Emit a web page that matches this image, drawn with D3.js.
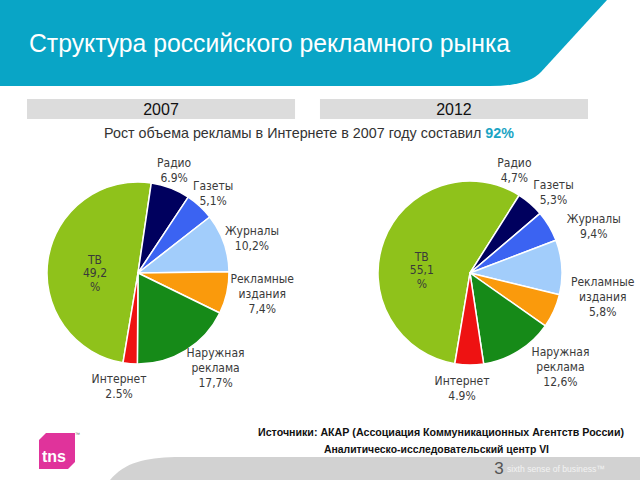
<!DOCTYPE html>
<html><head><meta charset="utf-8">
<script src="https://cdn.jsdelivr.net/npm/d3@7"></script>
<style>html,body{margin:0;padding:0;background:#fff;}svg{display:block;}</style>
</head><body>
<svg id="c" width="640" height="480"></svg>
<script>
// ---- data ----
const categories = ["ТВ", "Радио", "Газеты", "Журналы", "Рекламные издания", "Наружная реклама", "Интернет"];
const categoryLines = [["ТВ"], ["Радио"], ["Газеты"], ["Журналы"], ["Рекламные", "издания"], ["Наружная", "реклама"], ["Интернет"]];
const years = ["2007", "2012"];
const values2007 = [49.2, 6.9, 5.1, 10.2, 7.4, 17.7, 2.5];
const values2012 = [55.1, 4.7, 5.3, 9.4, 5.8, 12.6, 4.9];
const valueText2007 = ["49,2", "6.9%", "5,1%", "10,2%", "7,4%", "17,7%", "2.5%"];
const valueText2012 = ["55,1", "4,7%", "5,3%", "9,4%", "5,8%", "12,6%", "4.9%"];
const sliceColors = ["#8fc21b", "#00005e", "#3b63f2", "#a2cdfb", "#fa9a0c", "#168a18", "#ee1212"];
const titleText = "Структура российского рекламного рынка";
const subtitleText = "Рост объема рекламы в Интернете в 2007 году составил ";
const subtitleHighlight = "92%";
const sourceLines = ["Источники: АКАР (Ассоциация Коммуникационных Агентств России)", "Аналитическо-исследовательский центр  VI"];

// ---- layout (not data) ----
const pies = [
  {values: values2007, texts: valueText2007, cx: 138, cy: 273, r: 91,
   nudge: [[-1.5, 6.6], [-5, 5], [-3, 5], [5.5, 4], [12, -4], [17, -3], [-9, -1]]},
  {values: values2012, texts: valueText2012, cx: 470, cy: 273, r: 92,
   nudge: [[-9, 12], [-31, -16], [-15.5, -22], [9, -39], [28, -24], [30, -4], [-7, 0.5]]}
];
const startDeg = 189.5;

const svg = d3.select("#c");

// header banner
svg.append("path")
  .attr("d", "M0,0 L607,0 L541,72 Q528,86 490,86 L0,86 Z")
  .attr("fill", "#09a5c6");
svg.append("text").attr("x", 29).attr("y", 52)
  .attr("font-family", "Liberation Sans, Arial, sans-serif").attr("font-size", 26)
  .attr("fill", "#fff").attr("textLength", 481).attr("lengthAdjust", "spacingAndGlyphs")
  .text(titleText);

// year bars
const barScale = d3.scaleBand().domain(years).range([27, 588]).paddingInner(0.085);
years.forEach(y => {
  svg.append("rect").attr("x", barScale(y)).attr("y", 99).attr("width", barScale.bandwidth()).attr("height", 20)
    .attr("fill", "#dcdcdc");
  svg.append("text").attr("x", barScale(y) + barScale.bandwidth() / 2).attr("y", 115)
    .attr("text-anchor", "middle").attr("font-family", "Liberation Sans, Arial, sans-serif")
    .attr("font-size", 16).attr("fill", "#111").text(y);
});

// subtitle
const st = svg.append("text").attr("x", 309).attr("y", 138).attr("text-anchor", "middle")
  .attr("font-family", "Liberation Sans, Arial, sans-serif").attr("font-size", 14.3).attr("fill", "#333");
st.append("tspan").text(subtitleText);
st.append("tspan").attr("fill", "#1ba4c4").attr("font-weight", "bold").text(subtitleHighlight);

// pies
pies.forEach(p => {
  const g = svg.append("g").attr("transform", `translate(${p.cx},${p.cy})`);
  const pie = d3.pie().sort(null)
    .startAngle(startDeg * Math.PI / 180)
    .endAngle((startDeg + 360) * Math.PI / 180);
  const arcs = pie(p.values);
  const arc = d3.arc().innerRadius(0).outerRadius(p.r);
  g.selectAll("path.slice").data(arcs).enter().append("path")
    .attr("class", "slice").attr("d", arc)
    .attr("fill", (d, i) => sliceColors[i])
    .attr("stroke", "#fff").attr("stroke-width", 1.5).attr("stroke-linejoin", "round");

  arcs.forEach((d, i) => {
    const mid = (d.startAngle + d.endAngle) / 2;
    const inside = i === 0;
    const R = inside ? 42 : 115;
    const x = R * Math.sin(mid) + p.nudge[i][0];
    const y = -R * Math.cos(mid) + p.nudge[i][1];
    const lines = inside ? [categoryLines[i][0], p.texts[i], "%"] : categoryLines[i].concat([p.texts[i]]);
    const lh = inside ? 13.5 : 15;
    const t = g.append("text").attr("text-anchor", "middle")
      .attr("font-family", "DejaVu Sans Condensed, DejaVu Sans, sans-serif").attr("font-size", 12)
      .attr("fill", "#3a3a3a");
    lines.forEach((ln, k) => {
      t.append("tspan").attr("x", x).attr("y", y - (lines.length - 1) * lh / 2 + 4 + k * lh).text(ln);
    });
  });
});

// footer swoosh
svg.append("path")
  .attr("d", "M110,480 C125,462 145,458 175,457 L640,457 L640,480 Z")
  .attr("fill", "#d2d2d2");

// sources
svg.append("text").attr("x", 258).attr("y", 436)
  .attr("font-family", "Liberation Sans Narrow, Liberation Sans, Arial, sans-serif").attr("font-weight", "bold")
  .attr("font-size", 11).attr("fill", "#111").attr("textLength", 366).attr("lengthAdjust", "spacingAndGlyphs")
  .text(sourceLines[0]);
svg.append("text").attr("x", 324).attr("y", 453)
  .attr("font-family", "Liberation Sans Narrow, Liberation Sans, Arial, sans-serif").attr("font-weight", "bold")
  .attr("font-size", 11).attr("fill", "#111").attr("textLength", 225).attr("lengthAdjust", "spacingAndGlyphs")
  .text(sourceLines[1]);

// page number and slogan
svg.append("text").attr("x", 499).attr("y", 474).attr("text-anchor", "middle")
  .attr("font-family", "Liberation Sans, Arial, sans-serif").attr("font-size", 17).attr("fill", "#555").text("3");
svg.append("text").attr("x", 507).attr("y", 472)
  .attr("font-family", "Liberation Sans, Arial, sans-serif").attr("font-size", 9).attr("fill", "#f2f2f2")
  .attr("textLength", 98).attr("lengthAdjust", "spacingAndGlyphs")
  .text("sixth sense of business™");

// tns logo
svg.append("path")
  .attr("d", "M46,433 L75,433 L75,462 L68,469 L39,469 L39,440 Z")
  .attr("fill", "#e0339b");
svg.append("text").attr("x", 42).attr("y", 462)
  .attr("font-family", "Liberation Sans, Arial, sans-serif").attr("font-weight", "bold").attr("font-size", 16)
  .attr("fill", "#fff").text("tns");
svg.append("text").attr("x", 75).attr("y", 436)
  .attr("font-family", "Liberation Sans, Arial, sans-serif").attr("font-size", 5).attr("fill", "#666").text("™");
</script>
</body></html>
